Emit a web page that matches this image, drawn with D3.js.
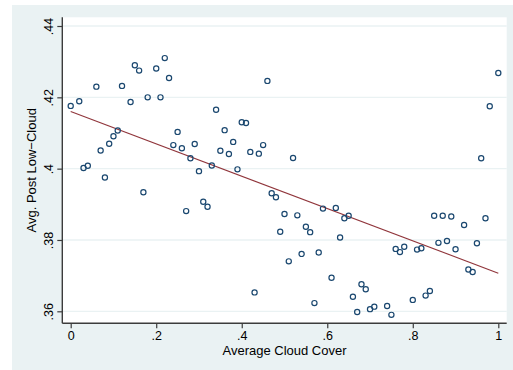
<!DOCTYPE html>
<html>
<head>
<meta charset="utf-8">
<script src="https://cdn.jsdelivr.net/npm/d3@7"></script>
<style>
  html, body { margin: 0; padding: 0; background: #ffffff; }
  svg { display: block; }
  text { font-family: "Liberation Sans", Arial, sans-serif; fill: #000; }
</style>
</head>
<body>
<svg id="chart" width="513" height="370"></svg>
<script>
// Average cloud cover (x) and average post low-cloud fraction (y), one entry per observation
const cloudCover = [
  0.00, 0.02, 0.03, 0.04, 0.06, 0.07, 0.08, 0.09, 0.10, 0.11,
  0.12, 0.14, 0.15, 0.16, 0.17, 0.18, 0.20, 0.21, 0.22, 0.23,
  0.24, 0.25, 0.26, 0.27, 0.28, 0.29, 0.30, 0.31, 0.32, 0.33,
  0.34, 0.35, 0.36, 0.37, 0.38, 0.39, 0.40, 0.41, 0.42, 0.43,
  0.44, 0.45, 0.46, 0.47, 0.48, 0.49, 0.50, 0.51, 0.52, 0.53,
  0.54, 0.55, 0.56, 0.57, 0.58, 0.59, 0.61, 0.62, 0.63, 0.64,
  0.65, 0.66, 0.67, 0.68, 0.69, 0.70, 0.71, 0.74, 0.75, 0.76,
  0.77, 0.78, 0.80, 0.81, 0.82, 0.83, 0.84, 0.85, 0.86, 0.87,
  0.88, 0.89, 0.90, 0.92, 0.93, 0.94, 0.95, 0.96, 0.97, 0.98,
  1.00
];
const postLowCloud = [
  0.4176, 0.4189, 0.4002, 0.4008, 0.4230, 0.4051, 0.3975, 0.4070, 0.4091, 0.4107,
  0.4232, 0.4187, 0.4290, 0.4275, 0.3934, 0.4200, 0.4281, 0.4200, 0.4310, 0.4254,
  0.4066, 0.4103, 0.4057, 0.3881, 0.4029, 0.4069, 0.3993, 0.3907, 0.3893, 0.4009,
  0.4165, 0.4050, 0.4108, 0.4041, 0.4075, 0.3998, 0.4130, 0.4128, 0.4047, 0.3653,
  0.4042, 0.4066, 0.4246, 0.3931, 0.3920, 0.3823, 0.3873, 0.3740, 0.4030, 0.3869,
  0.3761, 0.3837, 0.3822, 0.3623, 0.3765, 0.3888, 0.3694, 0.3890, 0.3807, 0.3861,
  0.3868, 0.3641, 0.3598, 0.3676, 0.3662, 0.3606, 0.3613, 0.3615, 0.3590, 0.3775,
  0.3766, 0.3781, 0.3632, 0.3773, 0.3777, 0.3644, 0.3657, 0.3868, 0.3792, 0.3868,
  0.3797, 0.3866, 0.3774, 0.3842, 0.3717, 0.3710, 0.3791, 0.4029, 0.3861, 0.4175,
  0.4268
];

// Linear fit, evaluated at both ends of the cloud-cover range
const fitX = [0, 1];
const fitY = [0.4160, 0.3707];

// Axis ticks and labels
const xTicks = [0, 0.2, 0.4, 0.6, 0.8, 1];
const xTickLabels = ["0", ".2", ".4", ".6", ".8", "1"];
const yTicks = [0.36, 0.38, 0.40, 0.42, 0.44];
const yTickLabels = [".36", ".38", ".4", ".42", ".44"];

const xTitle = "Average Cloud Cover";
const yTitle = "Avg. Post Low\u2212Cloud";

const svg = d3.select("#chart");

// Layout
const graphRegion = { x: 12, y: 5, w: 501, h: 365 };
const plotRegion = { left: 62.3, right: 506.7, top: 17.3, bottom: 323.3 };

const x = d3.scaleLinear().domain([0, 1]).range([70.7, 498.3]);
const y = d3.scaleLinear().domain([0.36, 0.44]).range([311.3, 26]);

// Backgrounds
svg.append("rect")
  .attr("x", graphRegion.x).attr("y", graphRegion.y)
  .attr("width", graphRegion.w).attr("height", graphRegion.h)
  .attr("fill", "#eaf2f3");

svg.append("rect")
  .attr("x", plotRegion.left).attr("y", plotRegion.top)
  .attr("width", plotRegion.right - plotRegion.left)
  .attr("height", plotRegion.bottom - plotRegion.top)
  .attr("fill", "#ffffff");

// Horizontal grid lines
svg.append("g")
  .selectAll("line")
  .data(yTicks)
  .join("line")
  .attr("x1", plotRegion.left).attr("x2", plotRegion.right)
  .attr("y1", d => y(d)).attr("y2", d => y(d))
  .attr("stroke", "#eaf2f3")
  .attr("stroke-width", 1.3);

// Fitted line
svg.append("path")
  .datum(fitX.map((v, i) => [v, fitY[i]]))
  .attr("d", d3.line().x(d => x(d[0])).y(d => y(d[1])))
  .attr("fill", "none")
  .attr("stroke", "#90353b")
  .attr("stroke-width", 1.1);

// Scatter points
svg.append("g")
  .selectAll("circle")
  .data(cloudCover.map((v, i) => [v, postLowCloud[i]]))
  .join("circle")
  .attr("cx", d => x(d[0]))
  .attr("cy", d => y(d[1]))
  .attr("r", 2.6)
  .attr("fill", "none")
  .attr("stroke", "#1a476f")
  .attr("stroke-width", 1.2);

// X axis
const xAxis = d3.axisBottom(x)
  .tickValues(xTicks)
  .tickFormat((d, i) => xTickLabels[i])
  .tickSize(5)
  .tickPadding(3)
  .tickSizeOuter(0);

const gx = svg.append("g")
  .attr("transform", `translate(0,${plotRegion.bottom})`)
  .call(xAxis);
gx.select(".domain")
  .attr("d", `M${plotRegion.left},0H${plotRegion.right}`)
  .attr("stroke", "#3c3c3c").attr("stroke-width", 1.4);
gx.selectAll(".tick line").attr("stroke", "#3c3c3c").attr("stroke-width", 1.2);
gx.selectAll(".tick text")
  .attr("font-size", 12.5)
  .attr("font-family", "Liberation Sans, Arial, sans-serif")
  .attr("fill", "#000");

// Y axis
const yAxis = d3.axisLeft(y)
  .tickValues(yTicks)
  .tickFormat((d, i) => yTickLabels[i])
  .tickSize(5)
  .tickSizeOuter(0);

const gy = svg.append("g")
  .attr("transform", `translate(${plotRegion.left},0)`)
  .call(yAxis);
gy.select(".domain")
  .attr("d", `M0,${plotRegion.top}V${plotRegion.bottom}`)
  .attr("stroke", "#3c3c3c").attr("stroke-width", 1.4);
gy.selectAll(".tick line").attr("stroke", "#3c3c3c").attr("stroke-width", 1.2);
gy.selectAll(".tick text")
  .attr("font-size", 12.5)
  .attr("font-family", "Liberation Sans, Arial, sans-serif")
  .attr("fill", "#000")
  .attr("text-anchor", "middle")
  .attr("x", 0)
  .attr("y", -9)
  .attr("dy", null)
  .attr("transform", "rotate(-90)");

// Axis titles
svg.append("text")
  .attr("x", (plotRegion.left + plotRegion.right) / 2)
  .attr("y", 355)
  .attr("text-anchor", "middle")
  .attr("font-size", 13)
  .text(xTitle);

svg.append("text")
  .attr("transform", `translate(35.5,${(plotRegion.top + plotRegion.bottom) / 2}) rotate(-90)`)
  .attr("text-anchor", "middle")
  .attr("font-size", 13)
  .text(yTitle);
</script>
</body>
</html>
